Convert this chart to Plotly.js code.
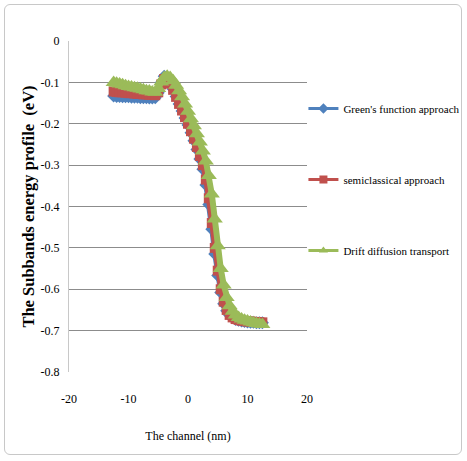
<!DOCTYPE html>
<html>
<head>
<meta charset="utf-8">
<script src="https://cdn.plot.ly/plotly-3.0.1.min.js"></script>
<style>
html,body{margin:0;padding:0;background:#fff;}
#wrap{position:relative;width:467px;height:461px;}
#chart{width:467px;height:461px;}
#frame{position:absolute;left:4px;top:4px;width:458px;height:451px;border:1px solid #c8c8c8;border-radius:6px;pointer-events:none;box-sizing:border-box;}
</style>
</head>
<body>
<div id="wrap"><div id="chart"></div><div id="frame"></div></div>
<script>
const channel = [-12.5,-12,-11.5,-11,-10.5,-10,-9.5,-9,-8.5,-8,-7.5,-7,-6.5,-6,-5.5,-5,-4.5,-4,-3.5,-3,-2.5,-2,-1.5,-1,-0.5,0,0.5,1,1.5,2,2.5,3,3.5,4,4.5,5,5.5,6,6.5,7,7.5,8,8.5,9,9.5,10,10.5,11,11.5,12,12.5];

const greensFunction = [-0.133,-0.134,-0.134,-0.135,-0.135,-0.135,-0.136,-0.136,-0.136,-0.137,-0.137,-0.137,-0.138,-0.138,-0.137,-0.125,-0.100,-0.085,-0.088,-0.100,-0.116,-0.134,-0.152,-0.169,-0.186,-0.203,-0.222,-0.241,-0.262,-0.285,-0.310,-0.348,-0.395,-0.455,-0.515,-0.567,-0.608,-0.635,-0.652,-0.663,-0.669,-0.673,-0.675,-0.677,-0.678,-0.679,-0.680,-0.680,-0.681,-0.681,-0.681];

const semiclassical = [-0.122,-0.123,-0.124,-0.124,-0.125,-0.126,-0.126,-0.127,-0.128,-0.128,-0.129,-0.129,-0.130,-0.130,-0.131,-0.124,-0.105,-0.092,-0.093,-0.103,-0.118,-0.135,-0.152,-0.168,-0.184,-0.200,-0.218,-0.236,-0.256,-0.278,-0.300,-0.335,-0.380,-0.440,-0.500,-0.555,-0.600,-0.630,-0.650,-0.662,-0.668,-0.672,-0.674,-0.676,-0.677,-0.678,-0.678,-0.679,-0.679,-0.680,-0.680];

const driftDiffusion = [-0.100,-0.102,-0.104,-0.106,-0.108,-0.110,-0.111,-0.113,-0.114,-0.116,-0.118,-0.120,-0.121,-0.123,-0.124,-0.115,-0.099,-0.088,-0.085,-0.088,-0.096,-0.107,-0.120,-0.135,-0.152,-0.170,-0.188,-0.205,-0.224,-0.244,-0.266,-0.290,-0.325,-0.370,-0.430,-0.495,-0.550,-0.590,-0.620,-0.640,-0.653,-0.662,-0.668,-0.672,-0.675,-0.677,-0.679,-0.681,-0.683,-0.684,-0.685];

const seriesNames = ["Green's function approach", "semiclassical approach", "Drift diffusion transport"];
const seriesColors = ['#4F81BD', '#C0504D', '#9BBB59'];
const seriesSymbols = ['diamond', 'square', 'triangle-up'];
const yTickVals = [0,-0.1,-0.2,-0.3,-0.4,-0.5,-0.6,-0.7,-0.8];
const yTickText = ["0","-0.1","-0.2","-0.3","-0.4","-0.5","-0.6","-0.7","-0.8"];
const xTickVals = [-20,-10,0,10,20];
const xTickText = ["-20","-10","0","10","20"];

const serif = "Liberation Serif, Times New Roman, serif";
const seriesY = [greensFunction, semiclassical, driftDiffusion];
const markerSizes = [10, 10, 14];
const lineWidths = [5, 5, 6];

const traces = [];
seriesY.forEach((ys, i) => {
  traces.push({x: channel, y: ys, name: seriesNames[i], mode: 'lines+markers', showlegend: false,
    line: {color: seriesColors[i], width: lineWidths[i]},
    marker: {symbol: seriesSymbols[i], size: markerSizes[i], color: seriesColors[i]}});
});
// legend entries (no data, legend symbols only)
seriesY.forEach((ys, i) => {
  traces.push({x: [null], y: [null], name: seriesNames[i], mode: 'lines+markers', legendgroup: 'g' + i,
    line: {color: seriesColors[i], width: 3},
    marker: {symbol: seriesSymbols[i], size: 8, color: seriesColors[i]}});
});

const layout = {
  width: 467, height: 461,
  margin: {l: 69, r: 160, t: 41, b: 89, autoexpand: false},
  paper_bgcolor: '#fff', plot_bgcolor: '#fff',
  showlegend: true,
  legend: {x: 0.985, y: 0.84, xanchor: 'left', yanchor: 'top', traceorder: 'grouped', tracegroupgap: 52,
           font: {family: serif, size: 11, color: '#000'}, itemwidth: 30, bgcolor: 'rgba(0,0,0,0)'},
  xaxis: {range: [-20, 20], tickvals: xTickVals, ticktext: xTickText, showgrid: false, zeroline: false,
          showline: false, ticks: '', ticklabelstandoff: 18,
          tickfont: {family: serif, size: 12, color: '#000'},
          title: {text: 'The channel (nm)', font: {family: serif, size: 12, color: '#000'}, standoff: 26}},
  yaxis: {range: [-0.8, 0], tickvals: yTickVals, ticktext: yTickText, showgrid: true, gridcolor: '#8c8c8c', gridwidth: 1,
          zeroline: false, showline: true, linecolor: '#c8c8c8', linewidth: 1, ticks: '', ticklabelstandoff: 6,
          tickfont: {family: serif, size: 12, color: '#000'},
          title: {text: 'The Subbands energy profile  (eV)', font: {family: serif, size: 16.5, color: '#000', weight: 'bold'}, standoff: 1}},
  font: {family: serif}
};

Plotly.newPlot('chart', traces, layout, {displayModeBar: false, staticPlot: true});
</script>
</body>
</html>
